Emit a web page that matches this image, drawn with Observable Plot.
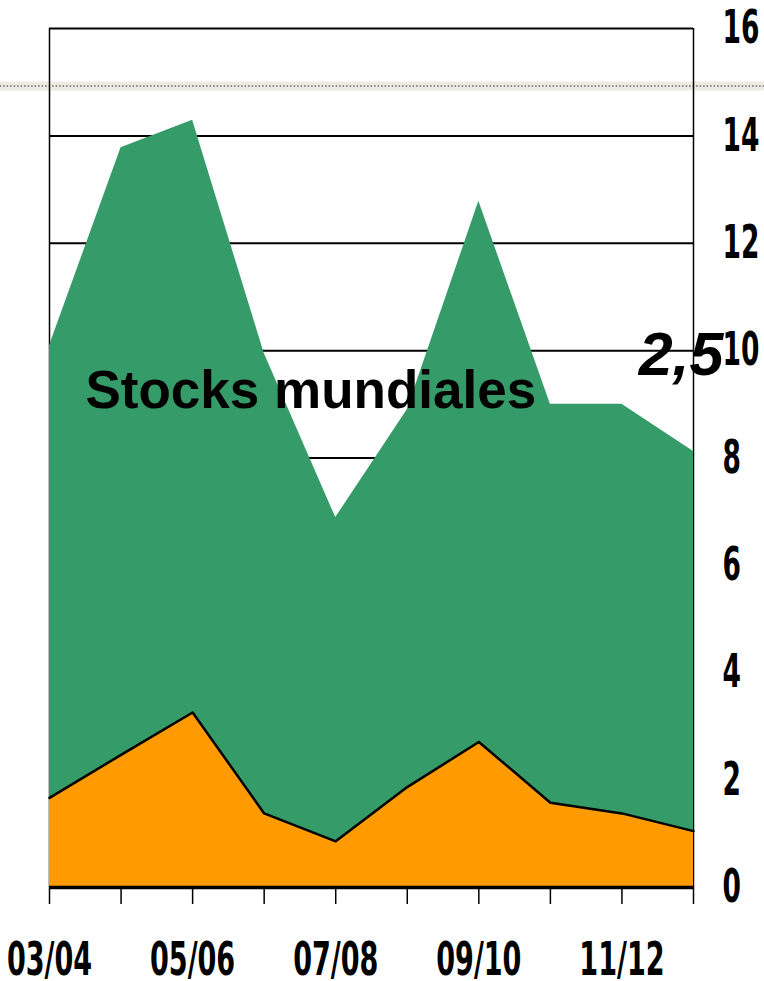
<!DOCTYPE html>
<html>
<head>
<meta charset="utf-8">
<script src="https://cdn.jsdelivr.net/npm/d3@7"></script>
<script src="https://cdn.jsdelivr.net/npm/@observablehq/plot@0.6"></script>
<style>
  html, body { margin: 0; padding: 0; background: #fff; }
  #chart svg { display: block; }
</style>
</head>
<body>
<div id="chart"></div>
<script>
const seasons = ["03/04","04/05","05/06","06/07","07/08","08/09","09/10","10/11","11/12","12/13"];
const stocksMundiales = [10.09, 13.78, 14.29, 9.95, 6.89, 8.9, 12.78, 9.0, 9.0, 8.12];
const stocksNaranja = [1.67, 2.47, 3.26, 1.38, 0.86, 1.87, 2.71, 1.58, 1.38, 1.05];
const yTicks = [0, 2, 4, 6, 8, 10, 12, 14, 16];
const xLabelEvery = 2;
const seriesLabel = "Stocks mundiales";
const annotation = "2,5";

const rows = seasons.map((s, i) => ({i, season: s, total: stocksMundiales[i], naranja: stocksNaranja[i]}));

const narrow = "'Liberation Sans Narrow', 'Arial Narrow', 'DejaVu Sans Condensed', sans-serif";

const chart = Plot.plot({
  width: 764,
  height: 981,
  marginLeft: 49,
  marginRight: 71,
  marginTop: 28,
  marginBottom: 94,
  style: {fontFamily: narrow, fontWeight: "bold", background: "#fff"},
  x: {type: "linear", domain: [0, seasons.length - 1], axis: null},
  y: {domain: [0, 16], axis: null},
  marks: [
    // decorative dotted band
    Plot.ruleY([14.93], {x1: -0.69, x2: 9.99, stroke: "#ecece4", strokeWidth: 9}),
    Plot.ruleY([14.93], {x1: -0.69, x2: 9.99, stroke: "#8a8a80", strokeWidth: 2, strokeDasharray: "1.5,2"}),
    // gridlines
    Plot.ruleY(yTicks.filter(d => d > 0), {stroke: "#000", strokeWidth: 2}),
    // frame sides
    Plot.ruleX([0, seasons.length - 1], {y1: 0, y2: 16, stroke: "#000", strokeWidth: 1.5}),
    // areas
    Plot.areaY(rows, {x: "i", y: "total", fill: "#359b68"}),
    Plot.areaY(rows, {x: "i", y: "naranja", fill: "#ff9a00"}),
    Plot.lineY(rows, {x: "i", y: "naranja", stroke: "#000", strokeWidth: 2.5}),
    // base axis line
    Plot.ruleY([0], {stroke: "#000", strokeWidth: 3.5}),
    Plot.axisX({
      ticks: d3.range(seasons.length),
      tickFormat: i => (i % xLabelEvery === 0 ? seasons[i] : ""),
      tickSize: 17,
      tickPadding: 37,
      fontSize: 47,
      fontWeight: "bold",
      stroke: "#000",
      strokeWidth: 1.5,
      fill: "#000",
      label: null
    }),
    Plot.axisY({
      anchor: "right",
      ticks: yTicks,
      tickSize: 0,
      tickPadding: 29,
      fontSize: 46,
      fontWeight: "bold",
      fill: "#000",
      label: null
    }),
    Plot.text([seriesLabel], {
      frameAnchor: "top-left",
      dx: 36, dy: 342,
      textAnchor: "start",
      lineAnchor: "top",
      fontSize: 53,
      fontWeight: "bold",
      fontFamily: "'Liberation Sans', Arial, sans-serif",
      fill: "#000"
    }),
    Plot.text([annotation], {
      frameAnchor: "top-right",
      dx: 30, dy: 303,
      textAnchor: "end",
      lineAnchor: "top",
      fontSize: 61,
      fontWeight: "bold",
      fontStyle: "italic",
      fontFamily: "'Liberation Sans', Arial, sans-serif",
      fill: "#000"
    })
  ]
});
document.getElementById("chart").appendChild(chart);

// condense the tick label glyphs horizontally (narrow bold font look)
d3.select(chart).selectAll("g[aria-label$='tick label'] text").each(function() {
  const t = this.getAttribute("transform") || "";
  this.setAttribute("transform", (t + " scale(0.64,1)").trim());
});
</script>
</body>
</html>
